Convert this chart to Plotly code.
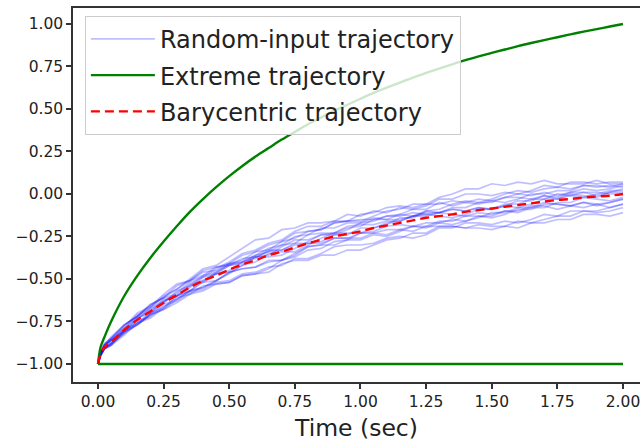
import plotly.graph_objects as go

# Time grid (sec)
time = [0.00, 0.01, 0.025, 0.05, 0.10, 0.15, 0.20, 0.25, 0.30, 0.35, 0.40, 0.45,
        0.50, 0.55, 0.60, 0.65, 0.70, 0.75, 0.80, 0.85, 0.90, 0.95,
        1.00, 1.05, 1.10, 1.15, 1.20, 1.25, 1.30, 1.35, 1.40, 1.45,
        1.50, 1.55, 1.60, 1.65, 1.70, 1.75, 1.80, 1.85, 1.90, 1.95, 2.00]

# Extreme trajectories
extreme_upper = [-1.00, -0.90, -0.84,
                 -0.75, -0.60, -0.48, -0.375, -0.28, -0.19, -0.105, -0.03, 0.04, 0.105,
                 0.165, 0.22, 0.27, 0.32, 0.365, 0.41, 0.45, 0.49, 0.525, 0.56,
                 0.595, 0.625, 0.655, 0.685, 0.712, 0.738, 0.763, 0.787, 0.809, 0.83,
                 0.85, 0.87, 0.888, 0.905, 0.922, 0.939, 0.955, 0.97, 0.985, 1.00]
extreme_lower = [-1.00] * len(time)

# Barycentric trajectory
barycentric = [-1.00, -0.94, -0.90,
               -0.87, -0.80, -0.74, -0.69, -0.64, -0.595, -0.55, -0.51, -0.48, -0.445,
               -0.415, -0.39, -0.36, -0.34, -0.315, -0.29, -0.27, -0.25, -0.235, -0.22,
               -0.20, -0.185, -0.17, -0.155, -0.14, -0.13, -0.12, -0.105, -0.095, -0.085,
               -0.075, -0.065, -0.055, -0.045, -0.035, -0.03, -0.02, -0.015, -0.01, 0.00]

# Random-input trajectories
traj_1 = [-1.00, -0.93, -0.89, -0.84, -0.77, -0.72, -0.66, -0.61, -0.56, -0.51, -0.48, -0.43,
          -0.41, -0.36, -0.34, -0.30, -0.28, -0.23, -0.22, -0.21, -0.17, -0.16,
          -0.12, -0.11, -0.08, -0.07, -0.08, -0.06, -0.06, -0.04, -0.05, -0.03,
          -0.04, -0.02, 0.00, -0.01, 0.01, -0.01, 0.01, 0.03, 0.02, 0.03, 0.05]
traj_2 = [-1.00, -0.95, -0.91, -0.88, -0.82, -0.75, -0.72, -0.66, -0.63, -0.58, -0.56, -0.52,
          -0.51, -0.47, -0.46, -0.43, -0.42, -0.38, -0.38, -0.35, -0.31, -0.30,
          -0.30, -0.29, -0.26, -0.25, -0.26, -0.24, -0.20, -0.20, -0.17, -0.17,
          -0.18, -0.16, -0.17, -0.15, -0.12, -0.13, -0.10, -0.10, -0.11, -0.10, -0.08]
traj_3 = [-1.00, -0.93, -0.88, -0.85, -0.79, -0.71, -0.67, -0.60, -0.56, -0.50, -0.44, -0.42,
          -0.37, -0.32, -0.27, -0.26, -0.21, -0.20, -0.17, -0.17, -0.16, -0.12,
          -0.13, -0.10, -0.11, -0.08, -0.09, -0.09, -0.05, -0.07, -0.05, -0.06,
          -0.04, -0.05, -0.03, 0.00, 0.00, 0.02, 0.02, 0.05, 0.05, 0.04, 0.06]
traj_4 = [-1.00, -0.95, -0.91, -0.89, -0.81, -0.77, -0.71, -0.68, -0.62, -0.57, -0.55, -0.51,
          -0.46, -0.44, -0.43, -0.40, -0.39, -0.35, -0.31, -0.30, -0.30, -0.27,
          -0.27, -0.24, -0.25, -0.22, -0.19, -0.19, -0.19, -0.19, -0.20, -0.18,
          -0.19, -0.19, -0.16, -0.17, -0.15, -0.13, -0.13, -0.10, -0.10, -0.08, -0.06]
traj_5 = [-1.00, -0.94, -0.89, -0.86, -0.81, -0.74, -0.67, -0.63, -0.60, -0.55, -0.49, -0.47,
          -0.42, -0.41, -0.37, -0.37, -0.36, -0.32, -0.28, -0.24, -0.23, -0.19,
          -0.18, -0.18, -0.16, -0.16, -0.13, -0.10, -0.09, -0.06, -0.04, -0.05,
          -0.05, -0.02, -0.02, -0.03, -0.01, -0.03, -0.01, -0.02, 0.00, 0.02, 0.02]
traj_6 = [-1.00, -0.94, -0.90, -0.87, -0.79, -0.72, -0.68, -0.64, -0.57, -0.54, -0.48, -0.46,
          -0.41, -0.39, -0.34, -0.33, -0.28, -0.26, -0.22, -0.21, -0.17, -0.16,
          -0.16, -0.13, -0.10, -0.09, -0.06, -0.06, -0.02, 0.00, 0.03, 0.03,
          0.06, 0.05, 0.07, 0.06, 0.08, 0.06, 0.06, 0.06, 0.08, 0.06, 0.06]
traj_7 = [-1.00, -0.95, -0.90, -0.88, -0.80, -0.76, -0.70, -0.67, -0.61, -0.59, -0.54, -0.53,
          -0.52, -0.48, -0.47, -0.44, -0.39, -0.37, -0.33, -0.32, -0.28, -0.27,
          -0.23, -0.22, -0.19, -0.18, -0.19, -0.17, -0.17, -0.15, -0.16, -0.14,
          -0.11, -0.11, -0.08, -0.08, -0.05, -0.06, -0.07, -0.05, -0.06, -0.05, -0.03]
traj_8 = [-1.00, -0.93, -0.88, -0.85, -0.77, -0.72, -0.65, -0.61, -0.54, -0.51, -0.45, -0.43,
          -0.42, -0.38, -0.37, -0.34, -0.33, -0.29, -0.29, -0.29, -0.26, -0.26,
          -0.23, -0.23, -0.21, -0.21, -0.19, -0.20, -0.17, -0.18, -0.16, -0.13,
          -0.13, -0.10, -0.10, -0.07, -0.07, -0.09, -0.07, -0.08, -0.06, -0.08, -0.06]
traj_9 = [-1.00, -0.95, -0.91, -0.89, -0.83, -0.76, -0.73, -0.67, -0.60, -0.57, -0.51, -0.47,
          -0.46, -0.42, -0.37, -0.36, -0.31, -0.27, -0.27, -0.24, -0.24, -0.21,
          -0.17, -0.16, -0.13, -0.12, -0.13, -0.11, -0.11, -0.09, -0.10, -0.08,
          -0.09, -0.07, -0.04, -0.04, -0.01, -0.02, 0.01, 0.01, 0.01, 0.00, 0.00]
traj_10 = [-1.00, -0.94, -0.89, -0.86, -0.80, -0.73, -0.70, -0.64, -0.58, -0.52, -0.49, -0.44,
           -0.40, -0.35, -0.33, -0.29, -0.27, -0.22, -0.19, -0.19, -0.16, -0.16,
           -0.15, -0.15, -0.13, -0.13, -0.11, -0.12, -0.11, -0.08, -0.08, -0.05,
           -0.03, 0.00, 0.02, 0.01, 0.03, 0.04, 0.03, 0.05, 0.04, 0.05, 0.04]
traj_11 = [-1.00, -0.95, -0.91, -0.88, -0.82, -0.77, -0.71, -0.68, -0.64, -0.59, -0.57, -0.53,
           -0.52, -0.48, -0.47, -0.46, -0.41, -0.39, -0.39, -0.36, -0.36, -0.33,
           -0.33, -0.30, -0.27, -0.26, -0.23, -0.23, -0.19, -0.19, -0.20, -0.20,
           -0.21, -0.19, -0.20, -0.17, -0.17, -0.15, -0.15, -0.12, -0.12, -0.13, -0.11]
traj_12 = [-1.00, -0.93, -0.89, -0.86, -0.78, -0.70, -0.66, -0.59, -0.53, -0.51, -0.46, -0.45,
           -0.41, -0.40, -0.36, -0.32, -0.30, -0.25, -0.24, -0.20, -0.20, -0.17,
           -0.17, -0.14, -0.15, -0.12, -0.09, -0.07, -0.03, -0.03, 0.00, 0.00,
           -0.01, 0.01, 0.00, 0.02, 0.05, 0.04, 0.07, 0.07, 0.06, 0.07, 0.07]
traj_13 = [-1.00, -0.94, -0.89, -0.86, -0.81, -0.73, -0.69, -0.62, -0.60, -0.54, -0.52, -0.47,
           -0.45, -0.40, -0.38, -0.33, -0.33, -0.30, -0.29, -0.28, -0.24, -0.24,
           -0.20, -0.20, -0.18, -0.14, -0.14, -0.10, -0.11, -0.09, -0.10, -0.08,
           -0.09, -0.07, -0.08, -0.06, -0.03, -0.03, 0.00, -0.01, -0.02, 0.01, 0.01]
traj_14 = [-1.00, -0.95, -0.91, -0.89, -0.81, -0.77, -0.71, -0.65, -0.62, -0.57, -0.55, -0.51,
           -0.46, -0.44, -0.43, -0.39, -0.39, -0.36, -0.31, -0.30, -0.26, -0.26,
           -0.26, -0.23, -0.24, -0.21, -0.22, -0.19, -0.16, -0.16, -0.13, -0.13,
           -0.14, -0.12, -0.09, -0.09, -0.06, -0.06, -0.07, -0.05, -0.07, -0.05, -0.03]
traj_15 = [-1.00, -0.93, -0.90, -0.85, -0.77, -0.72, -0.65, -0.61, -0.59, -0.53, -0.51, -0.46,
           -0.42, -0.40, -0.36, -0.34, -0.30, -0.29, -0.24, -0.23, -0.23, -0.23,
           -0.23, -0.20, -0.17, -0.16, -0.13, -0.12, -0.13, -0.14, -0.12, -0.09,
           -0.09, -0.06, -0.06, -0.03, -0.03, 0.00, -0.01, 0.01, -0.01, 0.01, 0.03]
traj_16 = [-1.00, -0.94, -0.91, -0.88, -0.80, -0.76, -0.70, -0.63, -0.60, -0.57, -0.52, -0.51,
           -0.47, -0.42, -0.40, -0.35, -0.34, -0.34, -0.30, -0.26, -0.23, -0.20,
           -0.19, -0.15, -0.15, -0.15, -0.13, -0.13, -0.11, -0.12, -0.13, -0.11,
           -0.12, -0.10, -0.11, -0.08, -0.08, -0.05, -0.05, -0.02, -0.03, -0.04, -0.02]

random_trajectories = [traj_1, traj_2, traj_3, traj_4, traj_5, traj_6, traj_7, traj_8,
                       traj_9, traj_10, traj_11, traj_12, traj_13, traj_14, traj_15, traj_16]

x_ticks = [0.0, 0.25, 0.5, 0.75, 1.0, 1.25, 1.5, 1.75, 2.0]
x_tick_labels = ["0.00", "0.25", "0.50", "0.75", "1.00", "1.25", "1.50", "1.75", "2.00"]
y_ticks = [-1.0, -0.75, -0.5, -0.25, 0.0, 0.25, 0.5, 0.75, 1.0]
y_tick_labels = ["\u22121.00", "\u22120.75", "\u22120.50", "\u22120.25", "0.00",
                 "0.25", "0.50", "0.75", "1.00"]

FONT = "DejaVu Sans"
fig = go.Figure()

for i, tr in enumerate(random_trajectories):
    fig.add_trace(go.Scatter(
        x=time, y=tr, mode="lines",
        line=dict(color="rgba(0,0,255,0.25)", width=1.7),
        name="Random-input trajectory", legendgroup="rand",
        showlegend=(i == 0), hoverinfo="skip"))

fig.add_trace(go.Scatter(
    x=time, y=extreme_upper, mode="lines", line_shape="spline",
    line=dict(color="#008000", width=2.4),
    name="Extreme trajectory", legendgroup="ext", showlegend=True))
fig.add_trace(go.Scatter(
    x=time, y=extreme_lower, mode="lines",
    line=dict(color="#008000", width=2.4),
    name="Extreme trajectory", legendgroup="ext", showlegend=False))

fig.add_trace(go.Scatter(
    x=time, y=barycentric, mode="lines", line_shape="spline",
    line=dict(color="#ff0000", width=2.4, dash="9px,5px"),
    name="Barycentric trajectory", legendgroup="bary", showlegend=True))

fig.update_layout(
    width=640, height=442,
    margin=dict(l=73, r=0, t=8, b=60),
    paper_bgcolor="white", plot_bgcolor="white",
    font=dict(family=FONT, color="#222222", size=15.5),
    legend=dict(
        x=0.021, y=0.979, xanchor="left", yanchor="top",
        bgcolor="rgba(255,255,255,0.8)", bordercolor="#cccccc", borderwidth=1,
        font=dict(family=FONT, size=24, color="#222222"),
        traceorder="grouped", tracegroupgap=2, itemwidth=64,
    ),
    showlegend=True,
)

fig.update_xaxes(
    range=[-0.0952, 2.0648], tickvals=x_ticks, ticktext=x_tick_labels,
    showgrid=False, zeroline=False,
    showline=True, linecolor="#333333", linewidth=1.5, mirror=True,
    ticks="outside", ticklen=5, tickwidth=1.5, tickcolor="#333333",
    ticklabeloverflow="allow",
    tickfont=dict(size=15.5, family=FONT, color="#222222"),
    title=dict(text="Time (sec)", font=dict(size=23.5, family=FONT, color="#222222"), standoff=12),
)
fig.update_yaxes(
    range=[-1.106, 1.094], tickvals=y_ticks, ticktext=y_tick_labels,
    showgrid=False, zeroline=False,
    showline=True, linecolor="#333333", linewidth=1.5, mirror=False,
    ticks="outside", ticklen=5, tickwidth=1.5, tickcolor="#333333",
    tickfont=dict(size=15.5, family=FONT, color="#222222"),
)

fig.write_html("out.html")
